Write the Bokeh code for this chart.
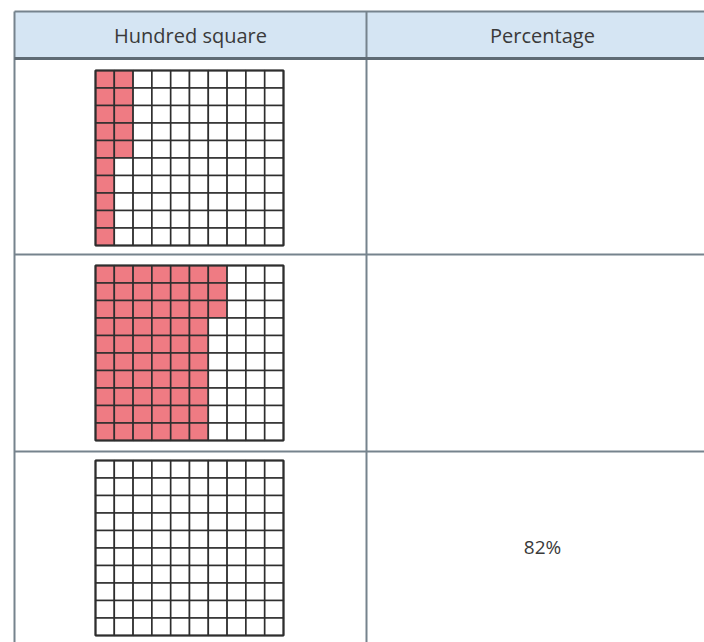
from bokeh.plotting import figure
from bokeh.models import Range1d, ColumnDataSource
from bokeh.core.properties import value
from bokeh.embed import file_html
from bokeh.resources import INLINE

# ---- data ----
headers = ["Hundred square", "Percentage"]
full_columns = [1, 6, 0]      # fully shaded columns of the hundred square
partial_cells = [5, 3, 0]     # extra shaded cells (from top) in next column
percent_labels = ["", "", "82%"]

# ---- layout ----
W, H = 704, 642
OX, OY = 0, 0
p = figure(width=W, height=H, x_range=Range1d(OX, OX + W), y_range=Range1d(OY + H, OY),
           output_backend="svg", toolbar_location=None, min_border=0)
p.axis.visible = False
p.grid.visible = False
p.outline_line_color = None
p.background_fill_color = "white"
p.border_fill_color = "white"

t_left, t_top, h_bottom, split, t_right = 14, 11, 58, 366, 718
row_bottoms = [254, 451]
border_col = "#76838d"
font = value("Open Sans")

# header background
p.quad(left=[t_left], right=[t_right + 10], top=[t_top], bottom=[h_bottom],
       fill_color="#d5e5f3", line_color=None)

# grids
grid_left, grid_w, grid_h = 95, 188, 175
grid_tops = [70, 265, 460]
cw, ch = grid_w / 10, grid_h / 10
xs, ys, cols = [], [], []
for r, (full, part) in enumerate(zip(full_columns, partial_cells)):
    for c in range(10):
        for k in range(10):
            shaded = c < full or (c == full and k < part)
            xs.append(grid_left + (c + 0.5) * cw)
            ys.append(grid_tops[r] + (k + 0.5) * ch)
            cols.append("#ef7b83" if shaded else "white")
src = ColumnDataSource(dict(x=xs, y=ys, c=cols))
p.rect(x="x", y="y", width=cw, height=ch, fill_color="c", line_color="#2e2e2e",
       line_width=1.6, source=src)
for gt in grid_tops:
    p.rect(x=[grid_left + grid_w / 2], y=[gt + grid_h / 2], width=grid_w, height=grid_h,
           fill_color=None, line_color="#2e2e2e", line_width=2)

# table lines
p.segment(x0=[t_left, t_left, split] + [t_left] * len(row_bottoms),
          y0=[t_top, t_top, t_top] + row_bottoms,
          x1=[t_right + 10, t_left, split] + [t_right + 10] * len(row_bottoms),
          y1=[t_top, 700, 700] + row_bottoms,
          line_color=border_col, line_width=2)
p.segment(x0=[t_left], y0=[h_bottom], x1=[t_right + 10], y1=[h_bottom],
          line_color="#5f6b74", line_width=3)

# header texts
p.text(x=[(t_left + split) / 2, (split + t_right) / 2], y=[(t_top + h_bottom) / 2] * 2,
       text=headers, text_font=font, text_font_size="20px", text_color="#3a3a3a",
       text_align="center", text_baseline="middle")

# percentage texts
row_tops = [h_bottom] + row_bottoms
row_ends = row_bottoms + [642]
p.text(x=[(split + t_right) / 2] * 3,
       y=[(a + b) / 2 for a, b in zip(row_tops, row_ends)],
       text=percent_labels, text_font=font, text_font_size="19px", text_color="#3a3a3a",
       text_align="center", text_baseline="middle")

open("out.html", "w").write(file_html(p, INLINE))
